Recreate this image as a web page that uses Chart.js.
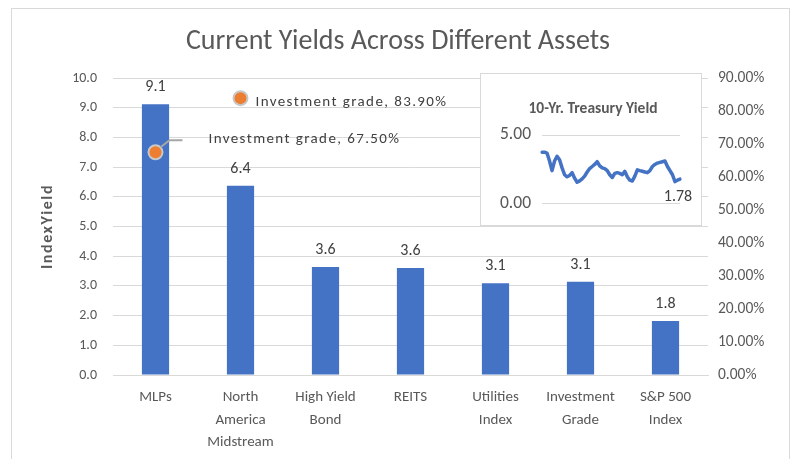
<!DOCTYPE html>
<html><head><meta charset="utf-8">
<script src="https://cdn.jsdelivr.net/npm/chart.js@4.4.1/dist/chart.umd.min.js"></script>
<style>
html,body{margin:0;padding:0;background:#fff;}
#wrap{position:relative;width:793px;height:459px;overflow:hidden;background:#fff;}
#frame{position:absolute;left:11px;top:8px;width:777px;height:470px;border:1px solid #d9d9d9;}
#main{position:absolute;left:0;top:0;}
#inset{position:absolute;left:480px;top:73px;width:222px;height:153px;border:1px solid #d9d9d9;background:#fff;box-sizing:border-box;}
#insetCanvas{position:absolute;left:0;top:0;}
</style></head>
<body>
<div id="wrap">
  <div id="frame"></div>
  <canvas id="main" width="793" height="459"></canvas>
  <div id="inset"><canvas id="insetCanvas" width="220" height="151"></canvas></div>
</div>
<script>
// ---- data ----
const chartTitle = "Current Yields Across Different Assets";
const yAxisTitle = "IndexYield";
const categories = [["MLPs"], ["North", "America", "Midstream"], ["High Yield", "Bond"], ["REITS"], ["Utilities", "Index"], ["Investment", "Grade"], ["S&P 500", "Index"]];
const indexYield = [9.12, 6.37, 3.64, 3.6, 3.09, 3.14, 1.82];
const investmentGradeName = "Investment grade";
const investmentGrade = [0.675, 0.839, null, null, null, null, null];
const leftTickMax = 10;
const rightTickMax = 0.9;
const insetTitle = "10-Yr. Treasury Yield";
const treasuryYield = [3.75, 3.75, 3.68, 3.1, 2.4, 3.1, 3.45, 3.2, 2.6, 2.1, 1.95, 2.05, 2.25, 1.85, 1.55, 1.65, 1.8, 2.0, 2.3, 2.55, 2.7, 2.85, 3.05, 2.75, 2.6, 2.55, 2.4, 2.1, 1.9, 2.2, 2.25, 2.2, 2.1, 2.35, 1.95, 1.7, 1.64, 2.0, 2.46, 2.4, 2.35, 2.3, 2.25, 2.4, 2.7, 2.85, 2.95, 3.0, 3.05, 3.1, 2.7, 2.4, 2.1, 1.6, 1.7, 1.78];
const insetTicks = [0, 5];

const FONT = "Carlito, Lato, 'Open Sans', sans-serif";
const GRAY = '#595959';
const DARK = '#404040';
const GRID = '#d9d9d9';
const BLUE = '#4472C4';
const ORANGE = '#ED7D31';

const mainLabels = {
  id: 'mainLabels',
  afterDatasetsDraw(chart) {
    const ctx = chart.ctx;
    const area = chart.chartArea;
    ctx.save();
    // title
    ctx.fillStyle = GRAY;
    ctx.font = "28px " + FONT;
    ctx.textAlign = 'center';
    ctx.textBaseline = 'middle';
    ctx.fillText(chartTitle, 398, 42);
    // y axis title
    ctx.save();
    ctx.translate(48, (area.top + area.bottom) / 2);
    ctx.rotate(-Math.PI / 2);
    ctx.font = "bold 16px " + FONT;
    try { ctx.letterSpacing = '1.6px'; } catch (e) {}
    ctx.fillText(yAxisTitle, 0, 0);
    ctx.restore();
    // bar labels
    ctx.fillStyle = DARK;
    ctx.font = "16px " + FONT;
    chart.getDatasetMeta(0).data.forEach((bar, i) => {
      ctx.fillText(indexYield[i].toFixed(1), bar.x, bar.y - 17);
    });
    // scatter labels
    const meta = chart.getDatasetMeta(1);
    ctx.font = "15px " + FONT;
    ctx.textAlign = 'left';
    try { ctx.letterSpacing = '1.4px'; } catch (e) {}
    meta.data.forEach((pt, i) => {
      const v = investmentGrade[i];
      if (v == null) return;
      const txt = investmentGradeName + ", " + (v * 100).toFixed(2) + "%";
      if (i === 0) {
        ctx.strokeStyle = '#a6a6a6';
        ctx.lineWidth = 2;
        ctx.beginPath();
        ctx.moveTo(pt.x + 5, pt.y - 5);
        ctx.lineTo(pt.x + 14, pt.y - 12);
        ctx.lineTo(pt.x + 27, pt.y - 12);
        ctx.stroke();
        ctx.fillText(txt, pt.x + 53, pt.y - 13);
      } else {
        ctx.fillText(txt, pt.x + 15, pt.y + 4);
      }
    });
    ctx.restore();
  }
};

new Chart(document.getElementById('main'), {
  type: 'bar',
  data: {
    labels: categories,
    datasets: [
      {
        type: 'bar',
        label: 'Index Yield',
        data: indexYield,
        backgroundColor: BLUE,
        yAxisID: 'y',
        categoryPercentage: 1,
        barPercentage: 0.32,
        order: 2
      },
      {
        type: 'line',
        label: investmentGradeName,
        data: investmentGrade,
        yAxisID: 'y1',
        showLine: false,
        pointRadius: 7,
        pointHoverRadius: 7,
        pointBackgroundColor: ORANGE,
        pointBorderColor: '#c8c8c8',
        pointBorderWidth: 2,
        order: 1
      }
    ]
  },
  options: {
    responsive: false,
    animation: false,
    layout: { padding: { top: 78, left: 0, right: 0, bottom: 0 } },
    plugins: { legend: { display: false }, title: { display: false }, tooltip: { enabled: false } },
    scales: {
      x: {
        grid: { display: false },
        border: { display: true, color: GRID },
        ticks: { color: GRAY, font: { family: FONT, size: 15, lineHeight: 1.5 }, padding: 3, maxRotation: 0, autoSkip: false },
        afterFit(s) { s.height = 84; }
      },
      y: {
        position: 'left',
        min: 0, max: leftTickMax,
        grid: { color: GRID, drawTicks: false },
        border: { display: false },
        ticks: { stepSize: 1, color: GRAY, font: { family: FONT, size: 14 }, padding: 16, callback: v => Number(v).toFixed(1) },
        afterFit(s) { s.width = 113; }
      },
      y1: {
        position: 'right',
        min: 0, max: rightTickMax,
        grid: { drawOnChartArea: false, drawTicks: false },
        border: { display: false },
        ticks: { stepSize: 0.1, color: GRAY, font: { family: FONT, size: 15.5 }, padding: 10, callback: v => (Number(v) * 100).toFixed(2) + '%' },
        afterFit(s) { s.width = 85; }
      }
    }
  },
  plugins: [mainLabels]
});

const insetLabels = {
  id: 'insetLabels',
  afterDatasetsDraw(chart) {
    const ctx = chart.ctx;
    ctx.save();
    ctx.fillStyle = GRAY;
    ctx.font = "bold 15.5px " + FONT;
    ctx.textAlign = 'center';
    ctx.textBaseline = 'middle';
    ctx.fillText(insetTitle, 112, 35);
    const pts = chart.getDatasetMeta(0).data;
    const last = pts[pts.length - 1];
    ctx.fillStyle = DARK;
    ctx.font = "16px " + FONT;
    ctx.fillText(treasuryYield[treasuryYield.length - 1].toFixed(2), last.x - 2, last.y + 18);
    ctx.restore();
  }
};

new Chart(document.getElementById('insetCanvas'), {
  type: 'line',
  data: {
    labels: treasuryYield.map((_, i) => i),
    datasets: [{
      data: treasuryYield,
      borderColor: BLUE,
      borderWidth: 3.5,
      pointRadius: 0,
      tension: 0,
      borderJoinStyle: 'round',
      borderCapStyle: 'round'
    }]
  },
  options: {
    responsive: false,
    animation: false,
    layout: { padding: { top: 61, left: 0, right: 21, bottom: 19 } },
    plugins: { legend: { display: false }, tooltip: { enabled: false } },
    scales: {
      x: { display: false, offset: false },
      y: {
        min: insetTicks[0], max: insetTicks[1],
        grid: { color: GRID, drawTicks: false },
        border: { display: false },
        ticks: { stepSize: 5, color: GRAY, font: { family: FONT, size: 17.5 }, padding: 11, callback: v => Number(v).toFixed(2) },
        afterFit(s) { s.width = 61; }
      }
    }
  },
  plugins: [insetLabels]
});
</script>
</body></html>
